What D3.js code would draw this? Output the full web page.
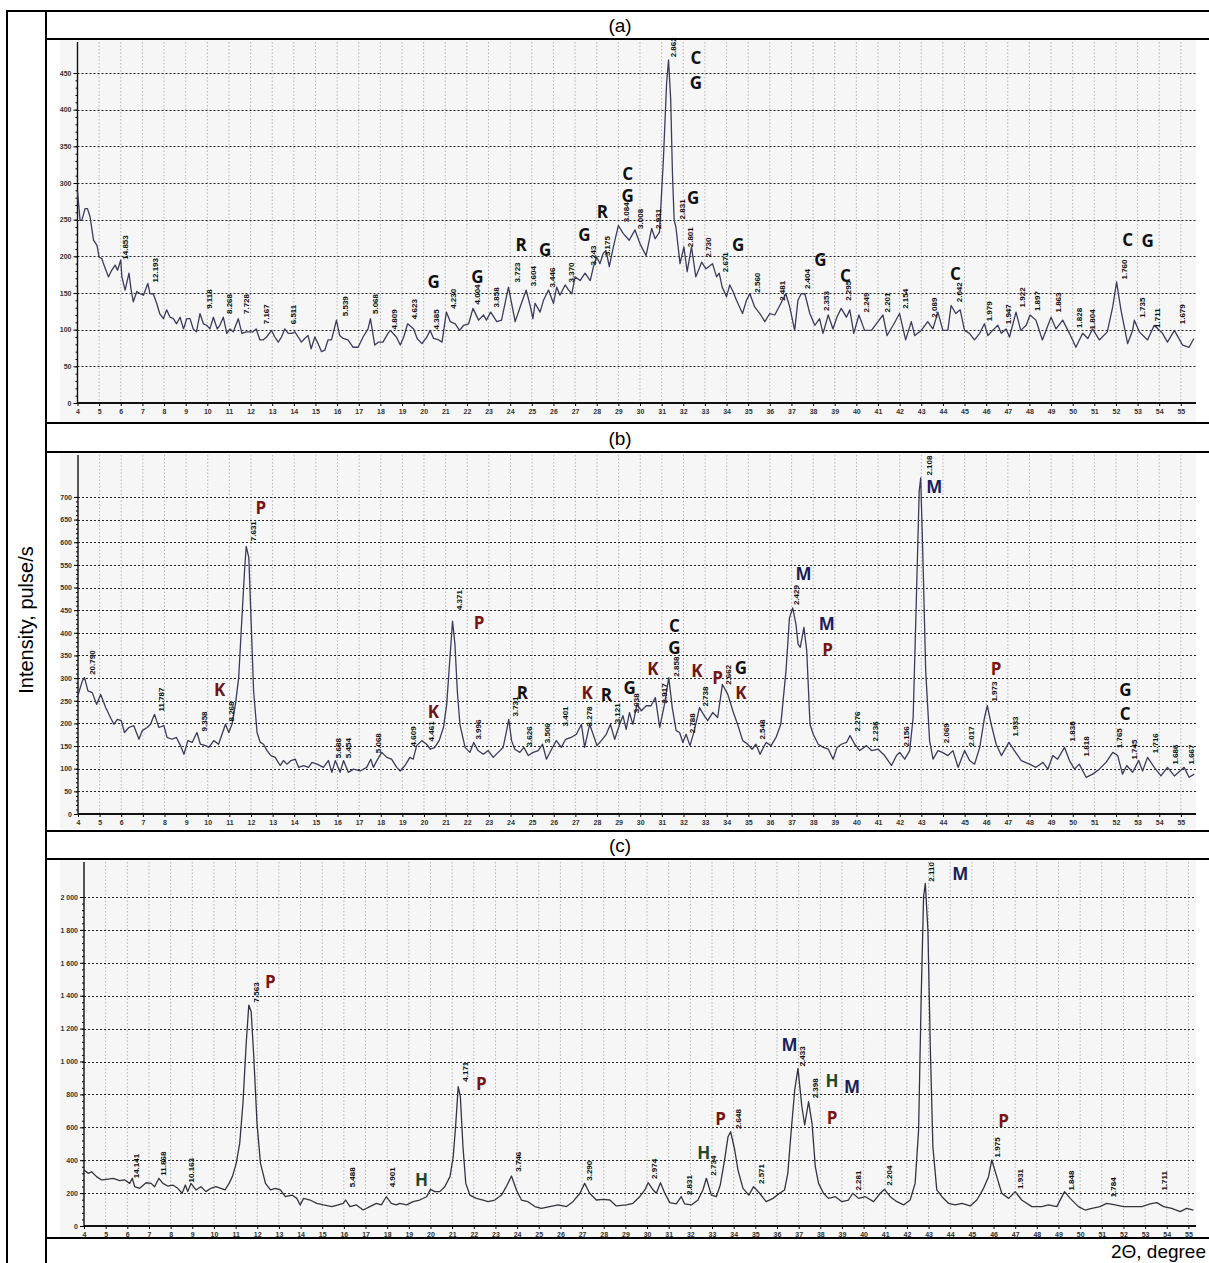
<!DOCTYPE html>
<html>
<head>
<meta charset="utf-8">
<style>
  body { margin: 0; background: #fff; }
  svg { display: block; }
  .tick text { font-family: "Liberation Sans", Arial, sans-serif; font-weight: bold; font-size: 7px; fill: #333; }
  .peak { font-family: "Liberation Sans Narrow", "Liberation Sans", Arial, sans-serif; font-weight: bold; font-size: 8px; fill: #111; }
  .phase { font-family: "Open Sans", "DejaVu Sans", sans-serif; font-weight: bold; font-size: 17px; }
  .cap { font-family: "Liberation Sans Narrow", "Liberation Sans", Arial, sans-serif; font-size: 19px; fill: #000; }
</style>
</head>
<body>
<svg width="1209" height="1263"></svg>
<script src="https://cdn.jsdelivr.net/npm/d3@7/dist/d3.min.js"></script>
<script>

// 2-theta (deg) vs intensity (pulse/s)
const scanA = [[4.0,288],[4.12,249],[4.2,249],[4.35,265],[4.46,265],[4.58,254],[4.74,222],[4.9,215],[5.0,199],[5.12,197],[5.25,186],[5.43,172],[5.58,181],[5.74,188],[5.85,181],[6.0,195],[6.05,172],[6.2,154],[6.38,177],[6.48,154],[6.58,138],[6.74,152],[6.9,149],[7.05,147],[7.25,163],[7.35,149],[7.5,149],[7.66,136],[7.8,122],[7.97,115],[8.12,127],[8.28,117],[8.43,115],[8.58,108],[8.74,117],[8.9,101],[9.05,115],[9.2,115],[9.35,101],[9.5,97],[9.66,122],[9.82,108],[9.97,106],[10.12,101],[10.28,117],[10.46,101],[10.58,106],[10.74,117],[10.9,95],[11.05,101],[11.2,97],[11.43,115],[11.6,95],[11.8,97],[12.1,97],[12.26,101],[12.43,86],[12.58,86],[12.74,90],[12.97,99],[13.12,90],[13.28,83],[13.43,90],[13.58,101],[13.74,95],[13.9,95],[14.05,97],[14.2,90],[14.35,83],[14.5,88],[14.66,92],[14.8,74],[14.97,90],[15.12,81],[15.28,70],[15.43,72],[15.58,86],[15.74,86],[15.97,113],[16.12,92],[16.28,88],[16.5,86],[16.74,76],[16.97,76],[17.2,90],[17.43,101],[17.54,115],[17.74,79],[17.9,83],[18.12,83],[18.35,95],[18.46,99],[18.74,90],[18.92,79],[19.08,90],[19.26,108],[19.54,101],[19.7,88],[19.92,81],[20.15,90],[20.3,99],[20.46,88],[20.7,86],[20.85,83],[21.05,124],[21.23,111],[21.46,108],[21.66,99],[21.85,106],[22.08,108],[22.28,129],[22.54,113],[22.77,120],[22.9,113],[23.1,124],[23.38,111],[23.6,113],[23.92,158],[24.23,111],[24.46,131],[24.74,154],[24.92,133],[25.05,115],[25.15,136],[25.38,124],[25.54,140],[25.77,154],[26.0,136],[26.15,158],[26.3,147],[26.54,161],[26.7,154],[26.85,149],[27.0,172],[27.23,167],[27.46,177],[27.7,167],[27.85,186],[28.0,199],[28.15,190],[28.3,204],[28.43,208],[28.58,186],[28.77,213],[29.0,242],[29.23,231],[29.5,222],[29.77,236],[30.0,217],[30.28,201],[30.54,238],[30.7,224],[30.9,233],[31.08,331],[31.23,436],[31.32,468],[31.42,413],[31.5,313],[31.58,249],[31.66,240],[31.85,190],[32.03,213],[32.18,179],[32.38,213],[32.58,172],[32.85,192],[33.05,183],[33.35,190],[33.54,172],[33.66,177],[33.8,158],[34.0,145],[34.15,161],[34.3,152],[34.46,140],[34.74,122],[34.92,140],[35.08,149],[35.3,131],[35.54,122],[35.77,111],[36.0,122],[36.23,120],[36.46,133],[36.74,149],[36.92,131],[37.15,99],[37.3,140],[37.45,149],[37.62,149],[37.85,122],[38.08,106],[38.3,115],[38.46,95],[38.7,120],[38.92,101],[39.1,117],[39.3,129],[39.54,117],[39.7,127],[39.88,95],[40.12,120],[40.38,99],[40.7,99],[41.0,111],[41.23,120],[41.42,92],[41.7,106],[42.0,122],[42.28,86],[42.54,111],[42.7,92],[43.0,99],[43.3,111],[43.54,101],[43.77,124],[44.0,99],[44.23,99],[44.38,133],[44.6,122],[44.8,127],[45.0,99],[45.23,95],[45.46,86],[45.7,95],[45.92,108],[46.08,92],[46.3,99],[46.54,106],[46.7,95],[46.92,101],[47.08,90],[47.38,124],[47.6,99],[47.85,106],[48.03,120],[48.3,113],[48.6,86],[49.0,117],[49.23,101],[49.54,113],[49.85,95],[50.15,76],[50.46,95],[50.7,88],[50.92,101],[51.23,86],[51.6,97],[51.85,131],[52.03,165],[52.23,127],[52.54,81],[52.77,99],[52.85,113],[53.08,97],[53.46,86],[53.77,106],[54.15,95],[54.38,83],[54.7,99],[55.08,79],[55.38,76],[55.6,88]]

const scanB = [[4.0,262],[4.2,294],[4.3,301],[4.46,272],[4.66,268],[4.86,242],[5.05,264],[5.28,235],[5.5,213],[5.66,198],[5.82,209],[6.0,206],[6.15,180],[6.35,191],[6.58,195],[6.82,165],[6.97,184],[7.2,191],[7.35,198],[7.54,220],[7.74,191],[7.97,195],[8.12,169],[8.35,165],[8.55,169],[8.74,151],[8.9,132],[9.08,162],[9.28,158],[9.5,180],[9.66,154],[9.9,151],[10.05,147],[10.28,162],[10.5,154],[10.66,176],[10.82,198],[10.97,180],[11.12,198],[11.28,242],[11.43,301],[11.58,433],[11.7,536],[11.78,591],[11.9,566],[12.0,433],[12.12,272],[12.28,180],[12.43,158],[12.58,154],[12.74,140],[12.92,129],[13.12,125],[13.35,107],[13.5,118],[13.66,110],[13.85,118],[14.05,121],[14.2,103],[14.43,107],[14.66,103],[14.82,114],[15.05,110],[15.35,103],[15.58,118],[15.74,92],[15.9,118],[16.12,92],[16.28,118],[16.5,92],[16.74,99],[17.05,95],[17.35,103],[17.54,121],[17.66,103],[17.82,118],[18.05,136],[18.28,125],[18.5,121],[18.74,103],[18.9,95],[19.12,107],[19.35,125],[19.5,121],[19.66,151],[19.9,162],[20.12,154],[20.3,143],[20.5,147],[20.7,162],[20.9,191],[21.05,242],[21.2,345],[21.32,426],[21.43,375],[21.54,272],[21.66,198],[21.9,147],[22.12,136],[22.3,158],[22.5,140],[22.74,132],[22.97,140],[23.2,125],[23.43,136],[23.66,147],[23.82,184],[23.92,209],[24.05,162],[24.2,143],[24.43,136],[24.62,147],[24.82,129],[25.05,136],[25.28,140],[25.48,154],[25.66,121],[25.9,143],[26.12,162],[26.35,147],[26.55,165],[26.8,169],[27.05,176],[27.28,198],[27.43,147],[27.66,198],[27.82,176],[28.0,151],[28.2,162],[28.43,176],[28.62,198],[28.82,165],[29.05,198],[29.2,217],[29.35,187],[29.5,224],[29.66,198],[29.85,242],[30.05,228],[30.28,239],[30.5,239],[30.7,257],[30.9,191],[31.12,242],[31.32,301],[31.48,235],[31.66,184],[31.82,180],[31.97,158],[32.12,176],[32.3,151],[32.5,184],[32.74,235],[32.92,220],[33.12,206],[33.35,224],[33.58,213],[33.8,286],[34.05,264],[34.28,228],[34.5,198],[34.74,162],[34.97,154],[35.17,143],[35.35,154],[35.54,132],[35.82,158],[36.05,151],[36.28,169],[36.5,198],[36.74,316],[36.9,433],[37.05,455],[37.2,419],[37.3,375],[37.4,368],[37.57,412],[37.7,360],[37.85,198],[38.0,176],[38.23,154],[38.46,147],[38.7,143],[38.92,121],[39.1,147],[39.3,154],[39.54,158],[39.7,173],[39.92,154],[40.15,140],[40.46,151],[40.7,140],[41.0,143],[41.3,129],[41.62,107],[41.85,129],[42.0,136],[42.23,121],[42.46,140],[42.62,213],[42.77,477],[42.9,713],[42.97,742],[43.08,551],[43.2,316],[43.38,162],[43.54,121],[43.77,140],[43.97,136],[44.23,129],[44.46,140],[44.7,103],[45.0,140],[45.23,118],[45.46,110],[45.7,147],[45.92,213],[46.05,239],[46.23,198],[46.46,154],[46.7,129],[47.05,158],[47.3,140],[47.62,118],[48.0,110],[48.3,103],[48.62,114],[48.85,99],[49.08,129],[49.3,121],[49.62,147],[49.85,118],[50.08,99],[50.3,110],[50.62,81],[50.92,88],[51.23,99],[51.54,114],[51.85,136],[52.08,129],[52.3,88],[52.5,107],[52.77,92],[53.05,118],[53.23,95],[53.46,125],[53.77,103],[54.08,84],[54.38,103],[54.7,84],[55.15,103],[55.38,81],[55.62,88]]

const scanC = [[4.0,340],[4.2,320],[4.35,330],[4.58,300],[4.81,280],[5.04,284],[5.35,290],[5.65,276],[5.88,280],[6.11,259],[6.23,290],[6.34,239],[6.57,229],[6.87,263],[7.1,259],[7.26,239],[7.46,290],[7.64,259],[7.87,243],[8.1,249],[8.33,229],[8.53,199],[8.68,249],[8.79,209],[8.94,259],[9.17,219],[9.4,239],[9.63,209],[9.86,229],[10.09,239],[10.32,229],[10.51,219],[10.7,259],[10.85,300],[11.03,381],[11.19,502],[11.34,746],[11.49,1110],[11.61,1343],[11.72,1303],[11.84,1029],[11.99,624],[12.15,381],[12.38,259],[12.61,219],[12.84,229],[13.07,219],[13.3,178],[13.6,188],[13.83,168],[13.98,128],[14.14,168],[14.44,158],[14.75,138],[15.06,128],[15.44,118],[15.74,128],[15.97,138],[16.08,158],[16.28,118],[16.58,128],[16.89,97],[17.2,118],[17.5,138],[17.73,128],[17.96,178],[18.19,138],[18.42,128],[18.58,138],[18.9,128],[19.2,148],[19.5,158],[19.82,178],[20.0,223],[20.2,209],[20.43,209],[20.66,239],[20.9,300],[21.05,421],[21.17,624],[21.28,847],[21.38,786],[21.5,482],[21.63,259],[21.82,188],[22.12,168],[22.43,158],[22.66,148],[22.97,158],[23.28,188],[23.5,239],[23.74,304],[23.97,219],[24.2,158],[24.5,148],[24.82,118],[25.12,107],[25.5,118],[25.9,128],[26.28,118],[26.58,148],[26.9,199],[27.12,259],[27.35,199],[27.66,158],[27.97,162],[28.28,158],[28.58,122],[29.05,128],[29.35,138],[29.66,178],[29.9,219],[30.05,263],[30.28,219],[30.43,199],[30.62,263],[30.82,199],[31.05,142],[31.35,134],[31.58,178],[31.74,134],[32.05,128],[32.35,158],[32.58,219],[32.74,290],[32.97,188],[33.2,178],[33.38,249],[33.58,401],[33.74,543],[33.86,573],[34.05,462],[34.2,340],[34.43,229],[34.7,188],[34.92,239],[35.2,199],[35.5,148],[35.82,168],[36.12,199],[36.35,219],[36.5,320],[36.66,583],[36.82,827],[36.97,958],[37.15,725],[37.28,614],[37.46,756],[37.62,624],[37.77,361],[37.92,259],[38.15,199],[38.38,168],[38.7,178],[39.0,148],[39.3,158],[39.5,199],[39.77,168],[40.08,178],[40.46,148],[40.77,199],[40.97,223],[41.23,178],[41.54,148],[41.85,128],[42.15,158],[42.38,259],[42.54,583],[42.66,1394],[42.77,2002],[42.85,2083],[42.97,1799],[43.08,1090],[43.2,482],[43.38,219],[43.62,178],[43.92,138],[44.23,128],[44.54,138],[44.92,122],[45.23,158],[45.54,229],[45.77,300],[45.92,401],[46.15,300],[46.38,199],[46.7,168],[47.0,209],[47.3,158],[47.77,118],[48.23,118],[48.54,128],[48.92,118],[49.28,209],[49.54,168],[49.92,118],[50.23,97],[50.54,107],[50.92,118],[51.23,138],[51.62,128],[52.0,118],[52.38,118],[52.85,118],[53.23,134],[53.54,142],[53.85,118],[54.23,107],[54.62,87],[54.92,107],[55.23,97]]

// d-spacing labels: [2theta, intensity at label foot, text]
const peaksA = [[6.19,194,'14.853'],[7.57,163,'12.193'],[10.07,127,'9.118'],[11.02,120,'8.268'],[11.82,120,'7.728'],[12.7,106,'7.167'],[13.98,106,'6.511'],[16.38,117,'5.539'],[17.78,120,'5.068'],[18.66,99,'4.809'],[19.54,113,'4.623'],[20.58,99,'4.385'],[21.38,127,'4.230'],[22.49,133,'4.004'],[23.34,129,'3.858'],[24.31,163,'3.723'],[25.08,158,'3.604'],[25.95,156,'3.446'],[26.8,163,'3.370'],[27.82,186,'3.243'],[28.49,199,'3.175'],[29.35,245,'3.084'],[30.03,236,'3.008'],[30.85,236,'2.931'],[31.54,470,'2.862'],[31.97,249,'2.831'],[32.34,211,'2.801'],[33.15,197,'2.730'],[33.92,177,'2.671'],[35.42,149,'2.560'],[36.58,138,'2.481'],[37.72,154,'2.404'],[38.62,124,'2.353'],[39.62,138,'2.295'],[40.46,122,'2.249'],[41.42,122,'2.201'],[42.28,127,'2.154'],[43.62,115,'2.089'],[44.77,136,'2.042'],[46.15,110,'1.979'],[47.03,106,'1.947'],[47.66,129,'1.922'],[48.34,124,'1.897'],[49.31,122,'1.863'],[50.28,101,'1.828'],[50.92,99,'1.804'],[52.38,167,'1.760'],[53.23,115,'1.735'],[53.92,101,'1.711'],[55.08,106,'1.679']]

const peaksB = [[4.66,305,'20.790'],[7.85,224,'11.787'],[9.85,180,'9.358'],[11.09,202,'8.268'],[12.12,600,'7.631'],[16.05,121,'5.688'],[16.5,121,'5.454'],[17.89,132,'5.068'],[19.48,147,'4.609'],[20.32,158,'4.461'],[21.63,448,'4.371'],[22.51,162,'3.996'],[24.2,213,'3.731'],[24.86,147,'3.626'],[25.71,154,'3.506'],[26.55,191,'3.401'],[27.62,191,'3.278'],[28.92,198,'3.121'],[29.82,220,'3.038'],[31.09,242,'2.917'],[31.66,301,'2.858'],[32.4,176,'2.788'],[33.02,235,'2.738'],[34.05,283,'2.662'],[35.66,162,'2.548'],[37.2,459,'2.429'],[40.03,180,'2.276'],[40.85,158,'2.236'],[42.28,147,'2.156'],[43.34,745,'2.108'],[44.15,154,'2.069'],[45.31,147,'2.017'],[46.38,246,'1.973'],[47.35,169,'1.933'],[49.97,158,'1.838'],[50.62,125,'1.818'],[52.15,143,'1.765'],[52.82,118,'1.745'],[53.82,132,'1.716'],[54.72,107,'1.686'],[55.49,107,'1.667']]

const peaksC = [[6.42,284,'14.141'],[7.64,300,'11.868'],[8.97,259,'10.163'],[11.95,1353,'7.563'],[16.39,229,'5.488'],[18.22,229,'4.901'],[21.62,871,'4.171'],[24.05,324,'3.746'],[27.31,269,'3.290'],[30.35,280,'2.974'],[31.94,182,'2.831'],[33.05,300,'2.734'],[34.2,583,'2.648'],[35.28,249,'2.571'],[37.15,964,'2.433'],[37.77,770,'2.398'],[39.74,209,'2.281'],[41.18,239,'2.204'],[43.12,2087,'2.110'],[46.15,411,'1.975'],[47.23,219,'1.931'],[49.58,209,'1.848'],[51.54,168,'1.784'],[53.89,209,'1.711']]

// phase markers: [2theta, intensity, phase]
const phasesA = [[20.46,165,'G'],[22.49,172,'G'],[24.51,215,'R'],[25.62,209,'G'],[27.43,229,'G'],[28.26,261,'R'],[29.43,313,'C'],[29.43,283,'G'],[32.58,470,'C'],[32.58,436,'G'],[32.46,280,'G'],[34.54,216,'G'],[38.34,195,'G'],[39.5,174,'C'],[44.58,176,'C'],[52.54,223,'C'],[53.46,221,'G']]

const phasesB = [[10.55,275,'K'],[12.46,676,'P'],[20.43,225,'K'],[22.55,422,'P'],[24.55,268,'R'],[27.54,268,'K'],[28.43,264,'R'],[29.51,279,'G'],[30.58,320,'K'],[31.58,415,'C'],[31.58,367,'G'],[32.62,317,'K'],[33.58,301,'P'],[34.66,323,'G'],[34.66,268,'K'],[37.55,530,'M'],[38.62,420,'M'],[38.66,362,'P'],[43.6,723,'M'],[46.46,321,'P'],[52.43,274,'G'],[52.43,222,'C']]

const phasesC = [[12.61,1485,'P'],[19.58,280,'H'],[22.35,867,'P'],[32.62,442,'H'],[33.4,654,'P'],[36.58,1100,'M'],[38.54,883,'H'],[39.46,847,'M'],[38.54,660,'P'],[44.46,2139,'M'],[46.46,638,'P']]

const phaseColor = { C: '#111', G: '#111', R: '#111', K: '#6e1414', P: '#7a1414', M: '#1b1f5c', H: '#1f4a2a' }

const svg = d3.select('svg')

const panels = [
  { title: '(a)', titleY: 32, bg: [60, 40, 1196, 422], xr: [4, 55.7, 77.5, 1196], yr: [0, 495, 403, 40],
    step: 50, minor: 10, max: 450, scan: scanA, peaks: peaksA, phases: phasesA, stroke: '#3b3b5c' },
  { title: '(b)', titleY: 445, bg: [60, 453, 1196, 829], xr: [4, 55.7, 78, 1196], yr: [0, 797, 814, 453],
    step: 50, minor: 10, max: 700, scan: scanB, peaks: peaksB, phases: phasesB, stroke: '#3b3b5c' },
  { title: '(c)', titleY: 852, bg: [60, 860, 1196, 1237], xr: [4, 55.35, 84, 1196], yr: [0, 2225, 1226, 860],
    step: 200, minor: 40, max: 2000, scan: scanC, peaks: peaksC, phases: phasesC, stroke: '#34343f' }
]

const spaced = d3.formatLocale({ decimal: '.', thousands: ' ', grouping: [3], currency: ['', ''] }).format(',')

panels.forEach(p => {
  const x = d3.scaleLinear().domain([p.xr[0], p.xr[1]]).range([p.xr[2], p.xr[3]])
  const y = d3.scaleLinear().domain([p.yr[0], p.yr[1]]).range([p.yr[2], p.yr[3]])
  const top = p.bg[1], bottom = y(0), left = x(4), right = p.bg[2]

  svg.append('rect')
    .attr('x', p.bg[0]).attr('y', p.bg[1])
    .attr('width', p.bg[2] - p.bg[0]).attr('height', p.bg[3] - p.bg[1])
    .attr('fill', '#f6f6f6')

  const g = svg.append('g')

  // vertical grid, one per degree
  g.selectAll('.vg').data(d3.range(5, 56)).enter().append('line')
    .attr('x1', d => x(d)).attr('x2', d => x(d))
    .attr('y1', top + 2).attr('y2', bottom)
    .attr('stroke', '#b4b4b4').attr('stroke-width', 1).attr('stroke-dasharray', '1.5,2')

  // horizontal grid
  const majors = d3.range(p.step, p.max + 1, p.step)
  g.selectAll('.hg').data(majors).enter().append('line')
    .attr('x1', left).attr('x2', right)
    .attr('y1', d => Math.round(y(d)) + 0.5).attr('y2', d => Math.round(y(d)) + 0.5)
    .attr('stroke', '#222').attr('stroke-width', 1).attr('stroke-dasharray', '2,2')

  // axes
  g.append('g')
    .attr('transform', `translate(${left},0)`)
    .call(d3.axisLeft(y).tickValues(d3.range(0, p.max + 1, p.minor)).tickSize(2).tickFormat(''))
    .call(a => a.select('.domain').remove())
  g.append('g')
    .attr('transform', `translate(${left},0)`)
    .call(d3.axisLeft(y).tickValues(d3.range(0, p.max + 1, p.step)).tickSize(4).tickPadding(2)
      .tickFormat(d => p.step === 200 ? spaced(d) : d))
    .call(a => a.select('.domain').remove())
  g.append('line')
    .attr('x1', left).attr('x2', left).attr('y1', top + 2).attr('y2', bottom)
    .attr('stroke', '#111').attr('stroke-width', 1.4)

  g.append('g')
    .attr('transform', `translate(0,${bottom})`)
    .call(d3.axisBottom(x).tickValues(d3.range(4, 56)).tickSize(3).tickPadding(3).tickFormat(d3.format('d')))
    .call(a => a.select('.domain').remove())
  g.append('line')
    .attr('x1', left).attr('x2', right).attr('y1', bottom).attr('y2', bottom)
    .attr('stroke', '#111').attr('stroke-width', 2)

  // scan trace
  g.append('path')
    .datum(p.scan)
    .attr('fill', 'none')
    .attr('stroke', p.stroke)
    .attr('stroke-width', 1.3)
    .attr('stroke-linejoin', 'round')
    .attr('d', d3.line().x(d => x(d[0])).y(d => y(d[1])))

  // d-spacing labels
  g.selectAll('.peak').data(p.peaks).enter().append('text')
    .attr('class', 'peak')
    .attr('transform', d => `translate(${x(d[0])},${y(d[1]) - 1}) rotate(-90)`)
    .attr('dy', '0.35em')
    .text(d => d[2])

  // phase markers
  g.selectAll('.phase').data(p.phases).enter().append('text')
    .attr('class', 'phase')
    .attr('x', d => x(d[0])).attr('y', d => y(d[1]))
    .attr('text-anchor', 'middle').attr('dy', '0.36em')
    .attr('fill', d => phaseColor[d[2]])
    .text(d => d[2])

  svg.append('text')
    .attr('class', 'cap')
    .attr('x', 620).attr('y', p.titleY)
    .attr('text-anchor', 'middle')
    .text(p.title)
})

// table frame
const frame = svg.append('g').attr('stroke', '#000').attr('stroke-width', 2)
frame.append('line').attr('x1', 6).attr('x2', 1209).attr('y1', 11).attr('y2', 11)
frame.append('line').attr('x1', 7).attr('x2', 7).attr('y1', 10).attr('y2', 1263)
frame.append('line').attr('x1', 46).attr('x2', 46).attr('y1', 10).attr('y2', 1263)
;[39, 423, 452, 831, 859, 1238].forEach(yy => {
  frame.append('line').attr('x1', 46).attr('x2', 1209).attr('y1', yy).attr('y2', yy)
})

svg.append('text')
  .attr('class', 'cap')
  .attr('transform', 'translate(33,620) rotate(-90)')
  .attr('text-anchor', 'middle')
  .style('font-size', '20px')
  .text('Intensity, pulse/s')

svg.append('text')
  .attr('class', 'cap')
  .attr('x', 1206).attr('y', 1258)
  .attr('text-anchor', 'end')
  .style('font-size', '19px')
  .text('2Θ, degree')

</script>
</body>
</html>
